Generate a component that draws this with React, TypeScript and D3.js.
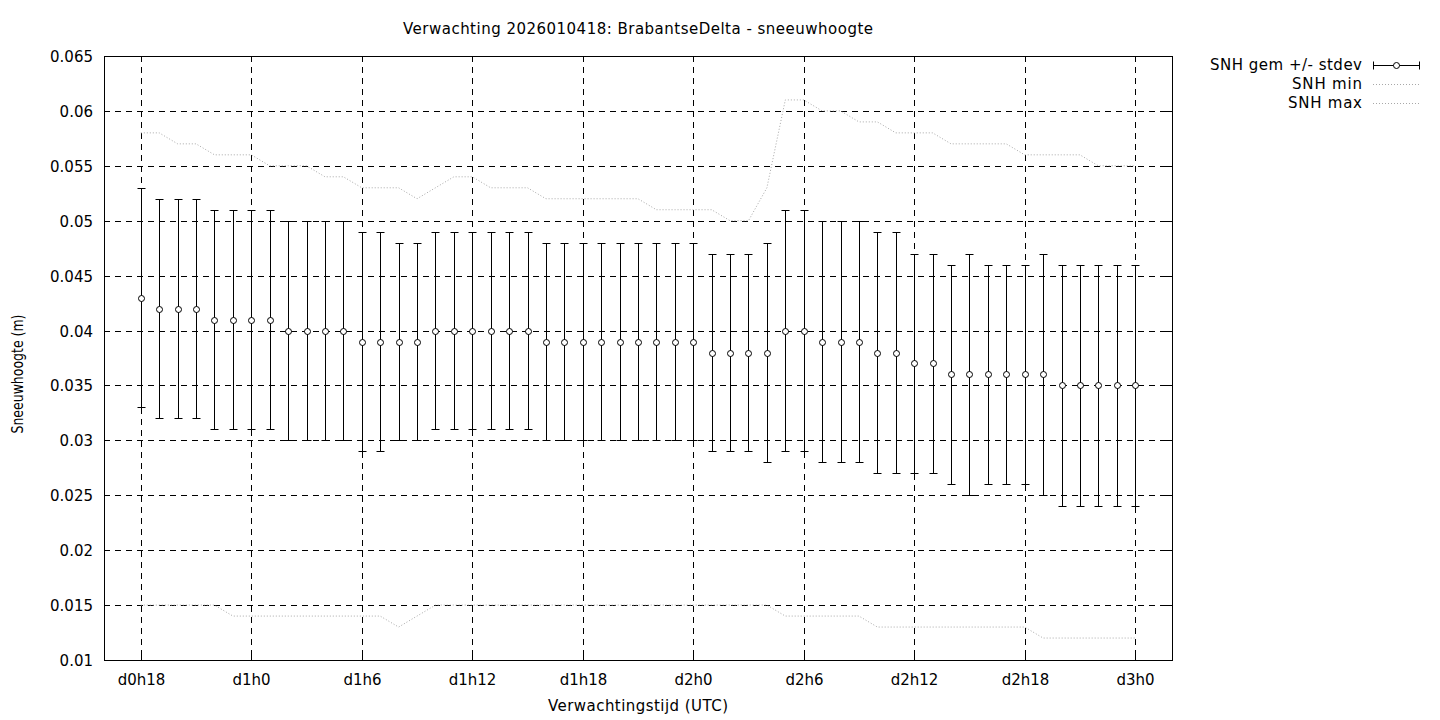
import React from "react";
import * as d3 from "d3";

const hours = [
  18, 19, 20, 21, 22, 23, 24, 25, 26, 27, 28, 29, 30, 31, 32, 33, 34, 35, 36,
  37, 38, 39, 40, 41, 42, 43, 44, 45, 46, 47, 48, 49, 50, 51, 52, 53, 54, 55,
  56, 57, 58, 59, 60, 61, 62, 63, 64, 65, 66, 67, 68, 69, 70, 71, 72,
];

const snhMean = [
  0.043, 0.042, 0.042, 0.042, 0.041, 0.041, 0.041, 0.041, 0.04, 0.04, 0.04,
  0.04, 0.039, 0.039, 0.039, 0.039, 0.04, 0.04, 0.04, 0.04, 0.04, 0.04, 0.039,
  0.039, 0.039, 0.039, 0.039, 0.039, 0.039, 0.039, 0.039, 0.038, 0.038, 0.038,
  0.038, 0.04, 0.04, 0.039, 0.039, 0.039, 0.038, 0.038, 0.037, 0.037, 0.036,
  0.036, 0.036, 0.036, 0.036, 0.036, 0.035, 0.035, 0.035, 0.035, 0.035,
];

const snhHigh = [
  0.053, 0.052, 0.052, 0.052, 0.051, 0.051, 0.051, 0.051, 0.05, 0.05, 0.05,
  0.05, 0.049, 0.049, 0.048, 0.048, 0.049, 0.049, 0.049, 0.049, 0.049, 0.049,
  0.048, 0.048, 0.048, 0.048, 0.048, 0.048, 0.048, 0.048, 0.048, 0.047, 0.047,
  0.047, 0.048, 0.051, 0.051, 0.05, 0.05, 0.05, 0.049, 0.049, 0.047, 0.047,
  0.046, 0.047, 0.046, 0.046, 0.046, 0.047, 0.046, 0.046, 0.046, 0.046, 0.046,
];

const snhLow = [
  0.033, 0.032, 0.032, 0.032, 0.031, 0.031, 0.031, 0.031, 0.03, 0.03, 0.03,
  0.03, 0.029, 0.029, 0.03, 0.03, 0.031, 0.031, 0.031, 0.031, 0.031, 0.031,
  0.03, 0.03, 0.03, 0.03, 0.03, 0.03, 0.03, 0.03, 0.03, 0.029, 0.029, 0.029,
  0.028, 0.029, 0.029, 0.028, 0.028, 0.028, 0.027, 0.027, 0.027, 0.027, 0.026,
  0.025, 0.026, 0.026, 0.026, 0.025, 0.024, 0.024, 0.024, 0.024, 0.024,
];

const snhMin = [
  0.015, 0.015, 0.015, 0.015, 0.015, 0.014, 0.014, 0.014, 0.014, 0.014, 0.014,
  0.014, 0.014, 0.014, 0.013, 0.014, 0.015, 0.015, 0.015, 0.015, 0.015, 0.015,
  0.015, 0.015, 0.015, 0.015, 0.015, 0.015, 0.015, 0.015, 0.015, 0.015, 0.015,
  0.015, 0.015, 0.014, 0.014, 0.014, 0.014, 0.014, 0.013, 0.013, 0.013, 0.013,
  0.013, 0.013, 0.013, 0.013, 0.013, 0.012, 0.012, 0.012, 0.012, 0.012, 0.012,
];

const snhMax = [
  0.058, 0.058, 0.057, 0.057, 0.056, 0.056, 0.056, 0.055, 0.055, 0.055, 0.054,
  0.054, 0.053, 0.053, 0.053, 0.052, 0.053, 0.054, 0.054, 0.053, 0.053, 0.053,
  0.052, 0.052, 0.052, 0.052, 0.052, 0.052, 0.051, 0.051, 0.051, 0.051, 0.05,
  0.05, 0.053, 0.061, 0.061, 0.06, 0.06, 0.059, 0.059, 0.058, 0.058, 0.058,
  0.057, 0.057, 0.057, 0.057, 0.056, 0.056, 0.056, 0.056, 0.055, 0.055, 0.055,
];

const xTickValues = [18, 24, 30, 36, 42, 48, 54, 60, 66, 72];
const xTickLabels = [
  "d0h18", "d1h0", "d1h6", "d1h12", "d1h18", "d2h0", "d2h6", "d2h12", "d2h18", "d3h0",
];
const yTickValues = [
  0.01, 0.015, 0.02, 0.025, 0.03, 0.035, 0.04, 0.045, 0.05, 0.055, 0.06, 0.065,
];
const yTickLabels = [
  "0.01", "0.015", "0.02", "0.025", "0.03", "0.035", "0.04", "0.045", "0.05", "0.055", "0.06", "0.065",
];

const titleText = "Verwachting 2026010418: BrabantseDelta - sneeuwhoogte";
const xTitle = "Verwachtingstijd (UTC)";
const yTitle = "Sneeuwhoogte (m)";
const legendLabels = ["SNH gem +/- stdev", "SNH min", "SNH max"];
const legendWidths = [152, 70, 74];

const W = 1440;
const H = 720;
const L = 104;
const R = 1172;
const T = 56;
const B = 660;
const FONT = "'DejaVu Sans', Verdana, sans-serif";

export default function App() {
  const x = d3.scaleLinear().domain([16, 74]).range([L, R]);
  const y = d3.scaleLinear().domain([0.01, 0.065]).range([B, T]);
  const px = (v: number) => Math.round(x(v)) + 0.5;
  const py = (v: number) => Math.round(y(v)) + 0.5;

  const line = d3
    .line<number>()
    .x((_, i) => x(hours[i]))
    .y((d) => y(d));

  const grid = "#000";
  const dash = "6,5";
  const dotColor = "#a8a8a8";
  const dotDash = "1,2";
  const cap = 4;

  return (
    <svg
      width={W}
      height={H}
      viewBox={`0 0 ${W} ${H}`}
      style={{ position: "absolute", left: 0, top: 0, background: "#fff" }}
      fontFamily={FONT}
    >
      <rect x={0} y={0} width={W} height={H} fill="#fff" />
      {/* grid */}
      <g stroke={grid} strokeWidth={1} strokeDasharray={dash} shapeRendering="crispEdges">
        {xTickValues.map((v) => (
          <line key={"gx" + v} x1={px(v)} x2={px(v)} y1={T} y2={B} />
        ))}
        {yTickValues.slice(1, -1).map((v) => (
          <line key={"gy" + v} x1={L} x2={R} y1={py(v)} y2={py(v)} />
        ))}
      </g>
      {/* ticks */}
      <g stroke="#000" strokeWidth={1} shapeRendering="crispEdges">
        {yTickValues.map((v) => (
          <g key={"ty" + v}>
            <line x1={L} x2={L + 6} y1={py(v)} y2={py(v)} />
            <line x1={R - 6} x2={R} y1={py(v)} y2={py(v)} />
          </g>
        ))}
        {xTickValues.map((v) => (
          <g key={"tx" + v}>
            <line x1={px(v)} x2={px(v)} y1={B - 6} y2={B} />
            <line x1={px(v)} x2={px(v)} y1={T} y2={T + 6} />
          </g>
        ))}
      </g>
      {/* min / max lines */}
      <path d={line(snhMin) || ""} fill="none" stroke={dotColor} strokeWidth={1} strokeDasharray={dotDash} />
      <path d={line(snhMax) || ""} fill="none" stroke={dotColor} strokeWidth={1} strokeDasharray={dotDash} />
      {/* error bars */}
      <g stroke="#000" strokeWidth={1}>
        {hours.map((h, i) => (
          <g key={"eb" + h}>
            <line x1={px(h)} x2={px(h)} y1={py(snhHigh[i])} y2={py(snhLow[i])} />
            <line x1={px(h) - cap} x2={px(h) + cap} y1={py(snhHigh[i])} y2={py(snhHigh[i])} />
            <line x1={px(h) - cap} x2={px(h) + cap} y1={py(snhLow[i])} y2={py(snhLow[i])} />
          </g>
        ))}
      </g>
      <g stroke="#000" strokeWidth={1} fill="#fff">
        {hours.map((h, i) => (
          <circle key={"pt" + h} cx={px(h)} cy={py(snhMean[i])} r={3} />
        ))}
      </g>
      {/* border */}
      <rect x={L + 0.5} y={T + 0.5} width={R - L} height={B - T} fill="none" stroke="#000" strokeWidth={1} shapeRendering="crispEdges" />
      {/* tick labels */}
      <g fontSize={15} fill="#000">
        {yTickValues.map((v, i) => (
          <text key={"ly" + v} x={93} y={py(v) + 5} textAnchor="end">
            {yTickLabels[i]}
          </text>
        ))}
        {xTickValues.map((v, i) => (
          <text key={"lx" + v} x={px(v)} y={685} textAnchor="middle">
            {xTickLabels[i]}
          </text>
        ))}
        <text x={(L + R) / 2} y={711} textAnchor="middle" textLength={180} lengthAdjust="spacing">
          {xTitle}
        </text>
        <text x={(L + R) / 2} y={34} textAnchor="middle" textLength={470} lengthAdjust="spacing">
          {titleText}
        </text>
        <text
          transform={`translate(23, 374) rotate(-90)`}
          textAnchor="middle"
          fontSize={16}
          textLength={119}
          lengthAdjust="spacingAndGlyphs"
        >
          {yTitle}
        </text>
      </g>
      {/* legend */}
      <g fontSize={15} fill="#000">
        {legendLabels.map((t, i) => (
          <text
            key={"lg" + i}
            x={1362}
            y={70 + i * 19}
            textAnchor="end"
            textLength={legendWidths[i]}
            lengthAdjust="spacing"
          >
            {t}
          </text>
        ))}
      </g>
      <g stroke="#000" strokeWidth={1}>
        <line x1={1373} x2={1420} y1={65.5} y2={65.5} />
        <line x1={1373.5} x2={1373.5} y1={61.5} y2={69.5} />
        <line x1={1419.5} x2={1419.5} y1={61.5} y2={69.5} />
        <circle cx={1396.5} cy={65.5} r={3} fill="#fff" />
      </g>
      <line x1={1373} x2={1420} y1={84.5} y2={84.5} stroke={dotColor} strokeDasharray={dotDash} />
      <line x1={1373} x2={1420} y1={103.5} y2={103.5} stroke={dotColor} strokeDasharray={dotDash} />
    </svg>
  );
}
